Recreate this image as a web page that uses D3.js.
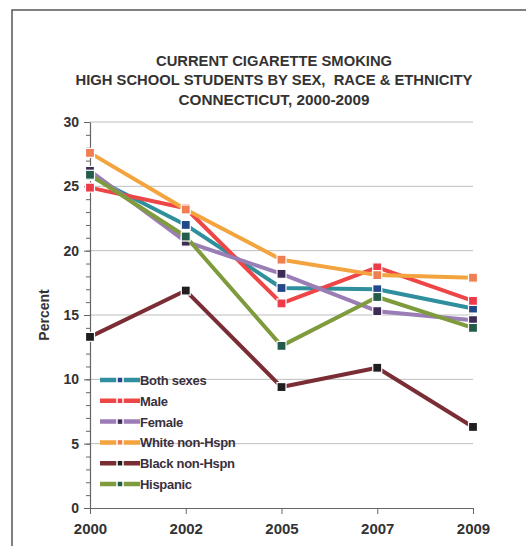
<!DOCTYPE html>
<html>
<head>
<meta charset="utf-8">
<script src="https://cdn.jsdelivr.net/npm/d3@7"></script>
<style>
	body { margin: 0; background: #fff; }
	svg { display: block; }
</style>
</head>
<body>
<div id="chart"></div>
<script>
// chart data
var years = ["2000", "2002", "2005", "2007", "2009"];
var seriesNames = ["Both sexes", "Male", "Female", "White non-Hspn", "Black non-Hspn", "Hispanic"];
var bothSexes = [25.8, 22.0, 17.1, 17.0, 15.5];
var male = [24.9, 23.3, 15.9, 18.7, 16.1];
var female = [26.2, 20.7, 18.2, 15.3, 14.6];
var whiteNonHspn = [27.6, 23.2, 19.3, 18.1, 17.9];
var blackNonHspn = [13.3, 16.9, 9.4, 10.9, 6.3];
var hispanic = [25.9, 21.1, 12.6, 16.4, 14.0];
var yTicks = [0, 5, 10, 15, 20, 25, 30];
var titleLines = ["CURRENT CIGARETTE SMOKING", "HIGH SCHOOL STUDENTS BY SEX,  RACE & ETHNICITY", "CONNECTICUT, 2000-2009"];

(function drawChart() {
	'use strict';

	var seriesValues = [bothSexes, male, female, whiteNonHspn, blackNonHspn, hispanic];
	var lineColors = ["#2f8f9c", "#ee4646", "#9b7db6", "#f4a43e", "#7a2d35", "#7f9b3d"];
	var markerColors = ["#24478a", "#ee3b4a", "#3e2b56", "#ef7e52", "#1f1f1f", "#245c4b"];

	var width = 526, height = 546;
	var fontFamily = "'Liberation Sans', Arial, sans-serif";
	var textColor = "#333";

	var svg = d3.select("#chart").append("svg")
		.attr("width", width)
		.attr("height", height)
		.attr("font-family", fontFamily);

	// outer frame (runs off the right and bottom edges)
	svg.append("rect")
		.attr("x", 12).attr("y", 10)
		.attr("width", 530).attr("height", 560)
		.attr("fill", "none")
		.attr("stroke", "#555")
		.attr("stroke-width", 1.5);

	// title
	var titleWidths = [236, 397, 191];
	var titleBase = [66, 85, 105];
	svg.selectAll("text.title").data(titleLines).enter()
		.append("text")
		.attr("class", "title")
		.attr("x", 274)
		.attr("y", function(d, i) { return titleBase[i]; })
		.attr("text-anchor", "middle")
		.attr("font-size", 14)
		.attr("font-weight", "bold")
		.attr("fill", textColor)
		.style("white-space", "pre")
		.attr("textLength", function(d, i) { return titleWidths[i]; })
		.attr("lengthAdjust", "spacingAndGlyphs")
		.text(function(d) { return d; });

	var plotLeft = 90, plotRight = 473, plotTop = 122, plotBottom = 508;

	var x = d3.scalePoint().domain(years).range([plotLeft, plotRight]).padding(0);
	var y = d3.scaleLinear().domain([0, 30]).range([plotBottom, plotTop]);

	// gridlines
	svg.append("g").selectAll("line").data(yTicks.slice(1)).enter()
		.append("line")
		.attr("x1", plotLeft).attr("x2", plotRight)
		.attr("y1", function(d) { return y(d); })
		.attr("y2", function(d) { return y(d); })
		.attr("stroke", "#bdbdbd")
		.attr("stroke-width", 1);

	// minor y ticks
	svg.append("g")
		.attr("transform", "translate(" + plotLeft + ",0)")
		.call(d3.axisLeft(y).ticks(30).tickSize(4).tickFormat(""))
		.call(function(g) {
			g.select(".domain").remove();
			g.selectAll("line").attr("stroke", "#666");
		});

	// y axis
	var yAxis = svg.append("g")
		.attr("transform", "translate(" + plotLeft + ",0)")
		.call(d3.axisLeft(y).tickValues(yTicks).tickSizeInner(6).tickSizeOuter(0).tickPadding(5));
	yAxis.select(".domain").attr("stroke", "#666").attr("stroke-width", 1.2);
	yAxis.selectAll("line").attr("stroke", "#666");
	yAxis.selectAll("text")
		.attr("font-family", fontFamily)
		.attr("font-size", 14)
		.attr("font-weight", "bold")
		.attr("fill", textColor);

	// x axis
	var xAxis = svg.append("g")
		.attr("transform", "translate(0," + plotBottom + ")")
		.call(d3.axisBottom(x).tickSizeInner(6).tickSizeOuter(0).tickPadding(9));
	xAxis.select(".domain").attr("stroke", "#666").attr("stroke-width", 1.2);
	xAxis.selectAll("line").attr("stroke", "#666");
	xAxis.selectAll("text")
		.attr("font-family", fontFamily)
		.attr("font-size", 15)
		.attr("font-weight", "bold")
		.attr("fill", textColor);

	// y axis title
	svg.append("text")
		.attr("transform", "translate(49,315) rotate(-90)")
		.attr("text-anchor", "middle")
		.attr("font-size", 14)
		.attr("font-weight", "bold")
		.attr("fill", textColor)
		.text("Percent");

	// series: line first, then its markers, later series on top
	var line = d3.line()
		.x(function(d, i) { return x(years[i]); })
		.y(function(d) { return y(d); });

	var markerSize = 9;
	seriesValues.forEach(function(values, s) {
		var g = svg.append("g").attr("class", "series");
		g.append("path")
			.datum(values)
			.attr("d", line)
			.attr("fill", "none")
			.attr("stroke", lineColors[s])
			.attr("stroke-width", 4)
			.attr("stroke-linejoin", "round");
		g.selectAll("rect").data(values).enter()
			.append("rect")
			.attr("x", function(d, i) { return x(years[i]) - markerSize / 2; })
			.attr("y", function(d) { return y(d) - markerSize / 2; })
			.attr("width", markerSize)
			.attr("height", markerSize)
			.attr("fill", markerColors[s])
			.attr("stroke", "#fff")
			.attr("stroke-width", 1.2);
	});

	// legend
	var legend = svg.append("g").attr("transform", "translate(100,380)");
	var rowH = 20.8;
	var rows = legend.selectAll("g").data(seriesNames).enter()
		.append("g")
		.attr("transform", function(d, i) { return "translate(0," + (i * rowH) + ")"; });
	rows.append("line")
		.attr("x1", 0).attr("x2", 40)
		.attr("y1", 0).attr("y2", 0)
		.attr("stroke", function(d, i) { return lineColors[i]; })
		.attr("stroke-width", 4.5);
	rows.append("rect")
		.attr("x", 17).attr("y", -3)
		.attr("width", 6).attr("height", 6)
		.attr("fill", function(d, i) { return markerColors[i]; })
		.attr("stroke", "#fff")
		.attr("stroke-width", 1.5);
	rows.append("text")
		.attr("x", 40)
		.attr("y", 5)
		.attr("font-size", 13)
		.attr("font-weight", "bold")
		.attr("letter-spacing", "-0.3")
		.attr("fill", "#3a2f3c")
		.text(function(d) { return d; });
})();
</script>
</body>
</html>
